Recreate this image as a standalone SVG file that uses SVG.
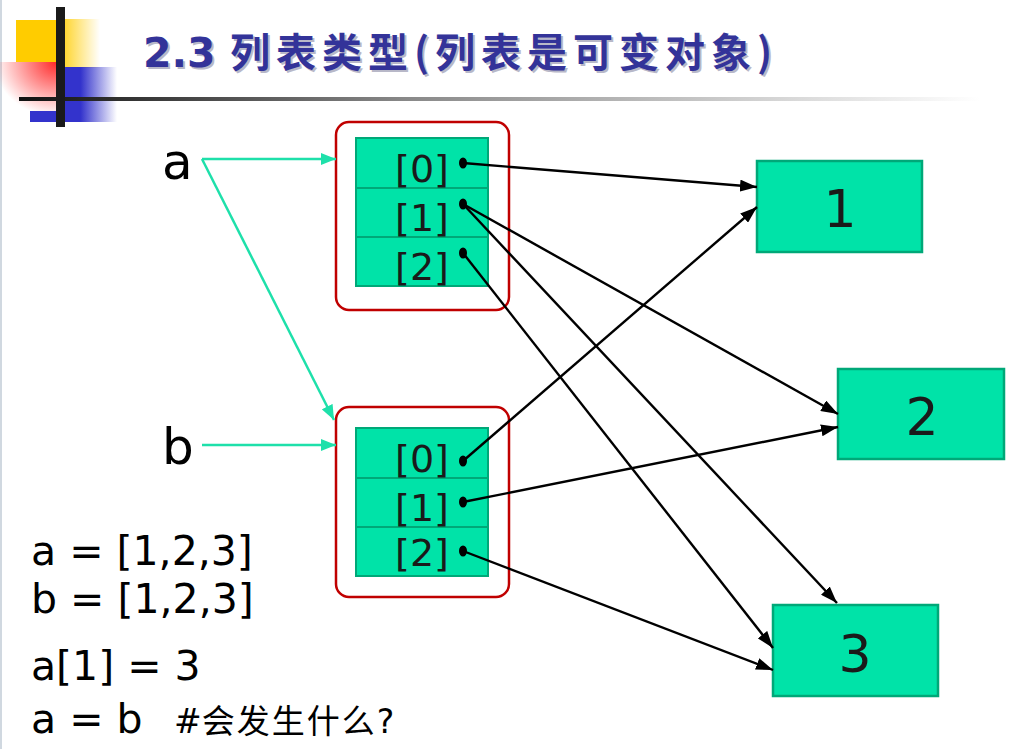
<svg xmlns="http://www.w3.org/2000/svg" width="1022" height="749" viewBox="0 0 1022 749">
<defs>
<style>
.cell{fill:#00e3a8;stroke:#00a878;stroke-width:2}
.frame{fill:none;stroke:#c00000;stroke-width:2.5}
.node{fill:#00e3a8;stroke:#00a878;stroke-width:2.5}
.ctext{font-family:"DejaVu Sans",Verdana,sans-serif;font-size:38px;fill:#1a1a1a;text-anchor:middle}
.ntext{font-family:"DejaVu Sans",Verdana,sans-serif;font-size:52px;fill:#1a1a1a;text-anchor:middle}
.code{font-family:"DejaVu Sans",Verdana,sans-serif;font-size:41px;fill:#000}
.var{font-family:"DejaVu Sans",Verdana,sans-serif;font-size:50px;fill:#000}
.blk{stroke:#000;stroke-width:2.4;fill:none;marker-end:url(#ah)}
.grn{stroke:#1ee0aa;stroke-width:2.5;fill:none;marker-end:url(#gh)}
.title{font-family:"DejaVu Sans",Verdana,"Noto Sans CJK SC",sans-serif;font-weight:bold;fill:#333399}
.shadow{fill:#b8b8c8}
</style>
<marker id="ah" markerWidth="17" markerHeight="12" refX="17" refY="6" orient="auto" markerUnits="userSpaceOnUse"><path d="M0,0 L17,6 L0,12 z" fill="#000"/></marker>
<marker id="gh" markerWidth="15" markerHeight="12" refX="15" refY="6" orient="auto" markerUnits="userSpaceOnUse"><path d="M0,0 L15,6 L0,12 z" fill="#1ee0aa"/></marker>
<linearGradient id="yfade" x1="0" y1="0" x2="1" y2="0"><stop offset="0" stop-color="#ffcc00"/><stop offset="1" stop-color="#ffcc00" stop-opacity="0"/></linearGradient>
<linearGradient id="bfade" x1="0" y1="0" x2="1" y2="0"><stop offset="0" stop-color="#3333cc"/><stop offset="0.3" stop-color="#3333cc"/><stop offset="1" stop-color="#3333cc" stop-opacity="0"/></linearGradient>
<radialGradient id="rfade" cx="1" cy="0" r="1.1"><stop offset="0" stop-color="#ff2a2a"/><stop offset="1" stop-color="#ff2a2a" stop-opacity="0"/></radialGradient>
<linearGradient id="hline" x1="0" y1="0" x2="1" y2="0"><stop offset="0" stop-color="#111"/><stop offset="0.4" stop-color="#888"/><stop offset="1" stop-color="#fff"/></linearGradient>
</defs>
<rect width="1022" height="749" fill="#fff"/>
<rect x="0" y="0" width="2" height="749" fill="#d0d8e0"/>
<g id="decor">
<rect x="16" y="20" width="40" height="42" fill="#ffcc00"/>
<rect x="56" y="19" width="44" height="49" fill="url(#yfade)"/>
<rect x="0" y="62" width="56" height="49" fill="url(#rfade)"/>
<rect x="65" y="67" width="52" height="55" fill="url(#bfade)"/>
<rect x="30" y="111" width="30" height="11" fill="#3333cc"/>
<rect x="19" y="97" width="961" height="4" fill="url(#hline)"/>
<rect x="56" y="7" width="9" height="120" fill="#1a1a1a"/>
</g>
<g id="title">
<text class="title shadow" x="145" y="69" font-size="41">2.3 <tspan font-family="'Noto Sans CJK SC',sans-serif" font-size="40" letter-spacing="6">列表类型(列表是可变对象)</tspan></text>
<text class="title" x="143" y="67" font-size="41">2.3 <tspan font-family="'Noto Sans CJK SC',sans-serif" font-size="40" letter-spacing="6">列表类型(列表是可变对象)</tspan></text>
</g>
<g id="list-a">
<rect class="frame" x="336" y="122" width="173" height="188" rx="13"/>
<rect class="cell" x="356" y="138" width="132" height="50"/>
<rect class="cell" x="356" y="188" width="132" height="49"/>
<rect class="cell" x="356" y="237" width="132" height="49"/>
<text class="ctext" x="422" y="182">[0]</text>
<text class="ctext" x="422" y="231">[1]</text>
<text class="ctext" x="422" y="280">[2]</text>
<ellipse cx="463" cy="163" rx="4" ry="5.5"/>
<ellipse cx="463" cy="204" rx="4" ry="5.5"/>
<ellipse cx="463" cy="253" rx="4" ry="5.5"/>
</g>
<g id="list-b">
<rect class="frame" x="336" y="407" width="173" height="190" rx="13"/>
<rect class="cell" x="356" y="428" width="132" height="50"/>
<rect class="cell" x="356" y="478" width="132" height="49"/>
<rect class="cell" x="356" y="527" width="132" height="49"/>
<text class="ctext" x="422" y="472">[0]</text>
<text class="ctext" x="422" y="521">[1]</text>
<text class="ctext" x="422" y="566" font-size="31">[2]</text>
<ellipse cx="463" cy="461" rx="4" ry="5.5"/>
<ellipse cx="463" cy="502" rx="4" ry="5.5"/>
<ellipse cx="463" cy="551" rx="4" ry="5.5"/>
</g>
<g id="node-1">
<rect class="node" x="757" y="161" width="165" height="91"/>
<text class="ntext" x="840" y="227">1</text>
</g>
<g id="node-2">
<rect class="node" x="838" y="369" width="166" height="90"/>
<text class="ntext" x="922" y="435">2</text>
</g>
<g id="node-3">
<rect class="node" x="773" y="605" width="165" height="91"/>
<text class="ntext" x="855" y="672">3</text>
</g>
<g id="labels">
<text class="var" x="162" y="179">a</text>
<text class="var" x="162" y="464">b</text>
<text class="code" x="31" y="565">a = [1,2,3]</text>
<text class="code" x="31" y="613">b = [1,2,3]</text>
<text class="code" x="31" y="680">a[1] = 3</text>
<text class="code" x="31" y="733">a = b</text>
<text x="174" y="733" font-family="'DejaVu Sans','Noto Sans CJK SC',sans-serif" font-size="33" fill="#000">#<tspan font-family="'Noto Sans CJK SC',sans-serif" letter-spacing="2">会发生什么</tspan>?</text>
</g>
<g id="connectors">
<path class="grn" d="M202,159 L336,159"/>
<path class="grn" d="M202,159 L334,420"/>
<path class="grn" d="M202,445 L336,445"/>
<path class="blk" d="M463,163 L757,187"/>
<path class="blk" d="M463,204 L838,414"/>
<path class="blk" d="M463,204 L837,603"/>
<path class="blk" d="M463,253 L773,648"/>
<path class="blk" d="M463,461 L757,207"/>
<path class="blk" d="M463,502 L838,427"/>
<path class="blk" d="M463,551 L773,670"/>
</g>
</svg>
